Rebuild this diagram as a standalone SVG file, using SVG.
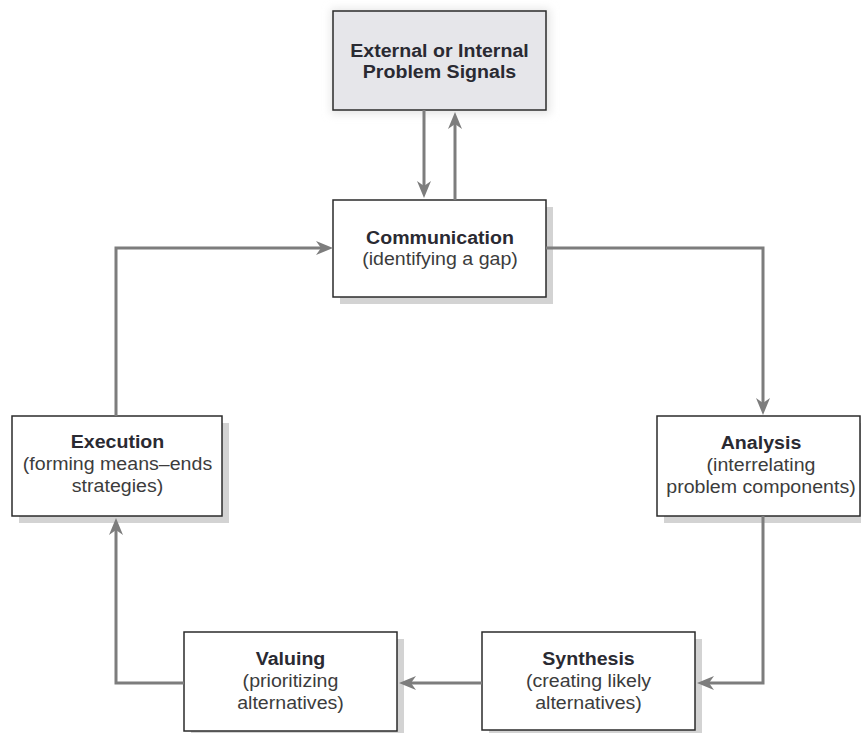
<svg xmlns="http://www.w3.org/2000/svg" width="861" height="733" viewBox="0 0 861 733">
  <defs>
    <marker id="arr" markerUnits="userSpaceOnUse" markerWidth="20" markerHeight="18" viewBox="-10 -9 20 18" refX="0" refY="0" orient="auto">
      <path d="M8,0 L-9,-7 L-4,0 L-9,7 Z" fill="#7d7d7d"/>
    </marker>
    <filter id="glow" x="-20%" y="-30%" width="140%" height="160%">
      <feGaussianBlur stdDeviation="4"/>
    </filter>
  </defs>
  <style>
    .box { fill: #ffffff; stroke: #2b2b2b; stroke-width: 1.5; }
    .shadow { fill: #d3d3d3; }
    .conn { fill: none; stroke: #7d7d7d; stroke-width: 3; }
    .t { font-family: "Liberation Sans", Arial, Helvetica, sans-serif; font-size: 17.5px; text-anchor: middle; }
    .b { font-weight: bold; fill: #2a2a32; }
    .r { fill: #3c3c3c; }
  </style>
  <rect width="861" height="733" fill="#ffffff"/>

  <g id="signals">
    <rect x="331" y="9" width="219" height="105" fill="#e4e4e4" filter="url(#glow)"/>
    <rect class="box" x="333" y="11" width="213" height="99" style="fill:#e6e6ea"/>
    <g transform="translate(439.5 0) scale(1.12 1)">
      <text class="t b" x="0" y="57">External or Internal</text>
      <text class="t b" x="0" y="78">Problem Signals</text>
    </g>
  </g>

  <g id="communication">
    <rect class="shadow" x="340" y="207" width="213" height="97"/>
    <rect class="box" x="333" y="200" width="213" height="97"/>
    <g transform="translate(440 0) scale(1.12 1)">
      <text class="t b" x="0" y="244">Communication</text>
      <text class="t r" x="0" y="265">(identifying a gap)</text>
    </g>
  </g>

  <g id="analysis">
    <rect class="shadow" x="664" y="423" width="203" height="100"/>
    <rect class="box" x="657" y="416" width="203" height="100"/>
    <g transform="translate(761 0) scale(1.12 1)">
      <text class="t b" x="0" y="449">Analysis</text>
      <text class="t r" x="0" y="471">(interrelating</text>
      <text class="t r" x="0" y="493">problem components)</text>
    </g>
  </g>

  <g id="synthesis">
    <rect class="shadow" x="489" y="639" width="213" height="98"/>
    <rect class="box" x="482" y="632" width="213" height="98"/>
    <g transform="translate(588.5 0) scale(1.12 1)">
      <text class="t b" x="0" y="665">Synthesis</text>
      <text class="t r" x="0" y="687">(creating likely</text>
      <text class="t r" x="0" y="709">alternatives)</text>
    </g>
  </g>

  <g id="valuing">
    <rect class="shadow" x="191" y="639" width="213" height="99"/>
    <rect class="box" x="184" y="632" width="213" height="99"/>
    <g transform="translate(290.5 0) scale(1.12 1)">
      <text class="t b" x="0" y="665">Valuing</text>
      <text class="t r" x="0" y="687">(prioritizing</text>
      <text class="t r" x="0" y="709">alternatives)</text>
    </g>
  </g>

  <g id="execution">
    <rect class="shadow" x="19" y="423" width="210" height="100"/>
    <rect class="box" x="12" y="416" width="210" height="100"/>
    <g transform="translate(117.5 0) scale(1.12 1)">
      <text class="t b" x="0" y="448">Execution</text>
      <text class="t r" x="0" y="470">(forming means–ends</text>
      <text class="t r" x="0" y="492">strategies)</text>
    </g>
  </g>

  <g id="connectors">
    <path class="conn" d="M424,110 V190" marker-end="url(#arr)"/>
    <path class="conn" d="M455,200 V120" marker-end="url(#arr)"/>
    <path class="conn" d="M546,248 H763 V407" marker-end="url(#arr)"/>
    <path class="conn" d="M763,516 V683 H705" marker-end="url(#arr)"/>
    <path class="conn" d="M482,683 H407" marker-end="url(#arr)"/>
    <path class="conn" d="M184,683 H116 V526" marker-end="url(#arr)"/>
    <path class="conn" d="M116,416 V248 H325" marker-end="url(#arr)"/>
  </g>
</svg>
